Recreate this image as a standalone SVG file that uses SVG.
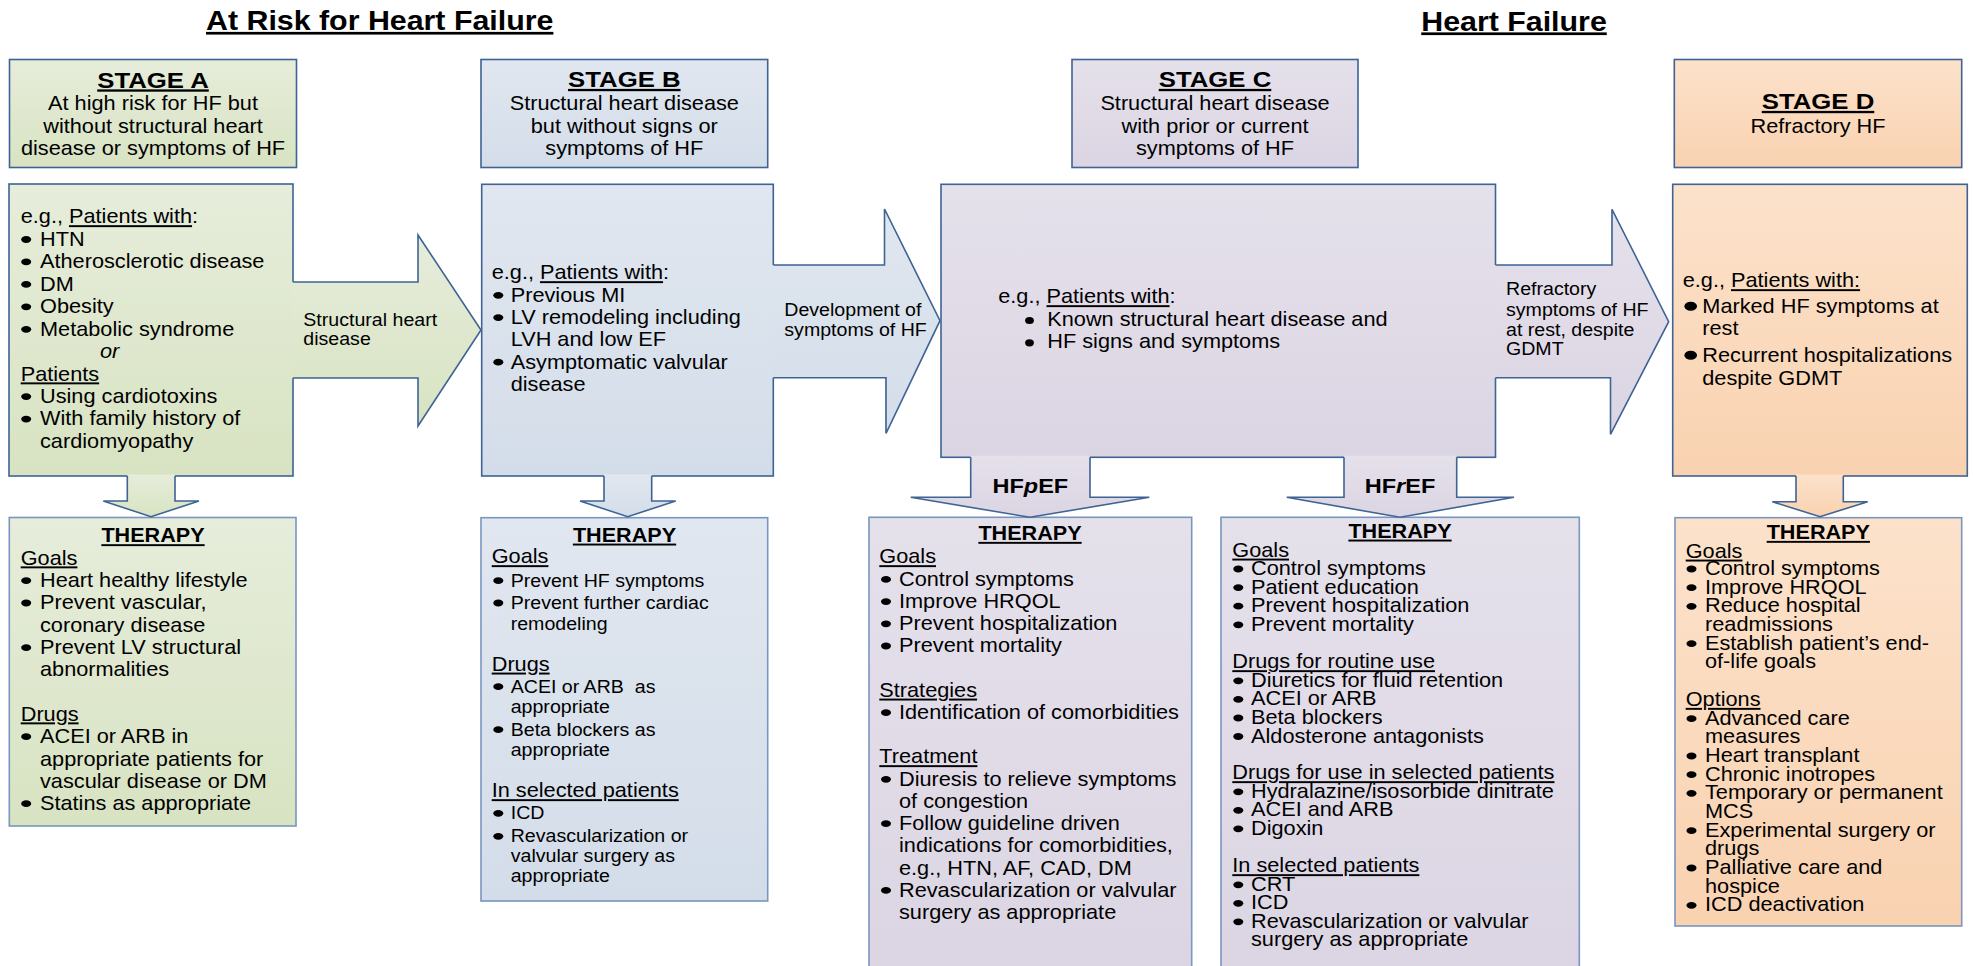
<svg xmlns="http://www.w3.org/2000/svg" xmlns:xlink="http://www.w3.org/1999/xlink" width="1974" height="966" viewBox="0 0 1974 966">
<defs>
<linearGradient id="gA" x1="0" y1="0" x2="0" y2="1"><stop offset="0" stop-color="#e6eddb"/><stop offset="1" stop-color="#d8e3c2"/></linearGradient>
<linearGradient id="gB" x1="0" y1="0" x2="0" y2="1"><stop offset="0" stop-color="#e1e7f0"/><stop offset="1" stop-color="#d3dde9"/></linearGradient>
<linearGradient id="gC" x1="0" y1="0" x2="0" y2="1"><stop offset="0" stop-color="#e5e1eb"/><stop offset="1" stop-color="#dbd5e3"/></linearGradient>
<linearGradient id="gD" x1="0" y1="0" x2="0" y2="1"><stop offset="0" stop-color="#fce2cb"/><stop offset="1" stop-color="#f9d2b0"/></linearGradient>
<ellipse id="bl" cx="0" cy="0" rx="5" ry="3.4" fill="#000"/>
<ellipse id="blc" cx="0" cy="0" rx="4.4" ry="3.6" fill="#000"/>
<ellipse id="blg" cx="0" cy="0" rx="6.3" ry="4.5" fill="#000"/>
</defs>
<style>
text{font-family:"Liberation Sans",Arial,sans-serif;font-size:19.4px;fill:#000}
.s{font-size:17.5px}
.th{font-size:19.3px;font-weight:bold;text-decoration:underline}
.st{font-size:23px;font-weight:bold;text-decoration:underline}
.ti{font-size:27.1px;font-weight:bold;text-decoration:underline}
.hf{font-size:21px;font-weight:bold}
.m{text-anchor:middle}
.u{text-decoration:underline}
.box{stroke:#3e6394;stroke-width:1.6}
.tbox{stroke:#7a95bf;stroke-width:1.6}
.arr{fill:none;stroke:#3e6394;stroke-width:1.6;stroke-linejoin:miter}
</style>
<rect width="1974" height="966" fill="#ffffff"/>

<g id="titles">
<text class="ti m" transform="matrix(1.12 0 0 1 379.7 30)">At Risk for Heart Failure</text>
<text class="ti m" transform="matrix(1.12 0 0 1 1514 30.5)">Heart Failure</text>
</g>

<!-- STAGE A -->
<g id="stageA-header">
<rect class="box" x="9.5" y="59.5" width="287" height="108" fill="url(#gA)"/>
<text class="st m" transform="matrix(1.12 0 0 1 153 87.5)">STAGE A</text>
<text class="m" transform="matrix(1.12 0 0 1 153 110)">At high risk for HF but</text>
<text class="m" transform="matrix(1.12 0 0 1 153 132.7)">without structural heart</text>
<text class="m" transform="matrix(1.12 0 0 1 153 155)">disease or symptoms of HF</text>
</g>
<g id="stageA-body">
<rect class="box" x="9" y="184" width="284" height="292" fill="url(#gA)"/>
<text transform="matrix(1.12 0 0 1 20.7 223.3)">e.g., <tspan class="u">Patients with</tspan>:</text>
<use href="#bl" x="26.2" y="239.5"/><text transform="matrix(1.12 0 0 1 40 245.8)">HTN</text>
<use href="#bl" x="26.2" y="261.9"/><text transform="matrix(1.12 0 0 1 40 268.2)">Atherosclerotic disease</text>
<use href="#bl" x="26.2" y="284.4"/><text transform="matrix(1.12 0 0 1 40 290.7)">DM</text>
<use href="#bl" x="26.2" y="306.8"/><text transform="matrix(1.12 0 0 1 40 313.1)">Obesity</text>
<use href="#bl" x="26.2" y="329.3"/><text transform="matrix(1.12 0 0 1 40 335.6)">Metabolic syndrome</text>
<text font-style="italic" transform="matrix(1.12 0 0 1 100 358)">or</text>
<text class="u" transform="matrix(1.12 0 0 1 20.7 380.5)">Patients</text>
<use href="#bl" x="26.2" y="396.6"/><text transform="matrix(1.12 0 0 1 40 402.9)">Using cardiotoxins</text>
<use href="#bl" x="26.2" y="419.1"/><text transform="matrix(1.12 0 0 1 40 425.4)">With family history of</text>
<text transform="matrix(1.12 0 0 1 40 447.8)">cardiomyopathy</text>
</g>
<g id="stageA-therapy">
<rect class="tbox" x="9.3" y="517.5" width="286.7" height="308.5" fill="url(#gA)"/>
<text class="th m" transform="matrix(1.12 0 0 1 153 542.3)">THERAPY</text>
<text class="u" transform="matrix(1.12 0 0 1 20.7 564.5)">Goals</text>
<use href="#bl" x="26.2" y="580.7"/><text transform="matrix(1.12 0 0 1 40 587)">Heart healthy lifestyle</text>
<use href="#bl" x="26.2" y="603"/><text transform="matrix(1.12 0 0 1 40 609.3)">Prevent vascular,</text>
<text transform="matrix(1.12 0 0 1 40 631.6)">coronary disease</text>
<use href="#bl" x="26.2" y="647.7"/><text transform="matrix(1.12 0 0 1 40 654)">Prevent LV structural</text>
<text transform="matrix(1.12 0 0 1 40 676.2)">abnormalities</text>
<text class="u" transform="matrix(1.12 0 0 1 20.7 720.5)">Drugs</text>
<use href="#bl" x="26.2" y="736.7"/><text transform="matrix(1.12 0 0 1 40 743)">ACEI or ARB in</text>
<text transform="matrix(1.12 0 0 1 40 765.5)">appropriate patients for</text>
<text transform="matrix(1.12 0 0 1 40 787.6)">vascular disease or DM</text>
<use href="#bl" x="26.2" y="803.7"/><text transform="matrix(1.12 0 0 1 40 810)">Statins as appropriate</text>
</g>

<!-- STAGE B -->
<g id="stageB-header">
<rect class="box" x="481" y="59.5" width="286.7" height="108" fill="url(#gB)"/>
<text class="st m" transform="matrix(1.12 0 0 1 624.3 87)">STAGE B</text>
<text class="m" transform="matrix(1.12 0 0 1 624.3 110)">Structural heart disease</text>
<text class="m" transform="matrix(1.12 0 0 1 624.3 132.7)">but without signs or</text>
<text class="m" transform="matrix(1.12 0 0 1 624.3 155)">symptoms of HF</text>
</g>
<g id="stageB-body">
<rect class="box" x="481.7" y="184.3" width="291.6" height="291.7" fill="url(#gB)"/>
<text transform="matrix(1.12 0 0 1 491.7 279.3)">e.g., <tspan class="u">Patients with</tspan>:</text>
<use href="#bl" x="498.3" y="295.3"/><text transform="matrix(1.12 0 0 1 510.7 301.6)">Previous MI</text>
<use href="#bl" x="498.3" y="317.6"/><text transform="matrix(1.12 0 0 1 510.7 323.9)">LV remodeling including</text>
<text transform="matrix(1.12 0 0 1 510.7 346.2)">LVH and low EF</text>
<use href="#bl" x="498.3" y="362.2"/><text transform="matrix(1.12 0 0 1 510.7 368.5)">Asymptomatic valvular</text>
<text transform="matrix(1.12 0 0 1 510.7 390.8)">disease</text>
</g>
<g id="stageB-therapy">
<rect class="tbox" x="481" y="517.7" width="286.7" height="383.3" fill="url(#gB)"/>
<text class="th m" transform="matrix(1.12 0 0 1 624.5 541.7)">THERAPY</text>
<text class="u" transform="matrix(1.12 0 0 1 491.7 563.3)">Goals</text>
<use href="#bl" x="498.3" y="580.7"/><text class="s" transform="matrix(1.12 0 0 1 510.7 586.7)">Prevent HF symptoms</text>
<use href="#bl" x="498.3" y="603"/><text class="s" transform="matrix(1.12 0 0 1 510.7 609)">Prevent further cardiac</text>
<text class="s" transform="matrix(1.12 0 0 1 510.7 629.7)">remodeling</text>
<text class="u" transform="matrix(1.12 0 0 1 491.7 670.7)">Drugs</text>
<use href="#bl" x="498.3" y="686.7"/><text class="s" xml:space="preserve" transform="matrix(1.12 0 0 1 510.7 692.7)">ACEI or ARB  as</text>
<text class="s" transform="matrix(1.12 0 0 1 510.7 713.3)">appropriate</text>
<use href="#bl" x="498.3" y="729.7"/><text class="s" transform="matrix(1.12 0 0 1 510.7 735.7)">Beta blockers as</text>
<text class="s" transform="matrix(1.12 0 0 1 510.7 755.7)">appropriate</text>
<text class="u" transform="matrix(1.12 0 0 1 491.7 797.3)">In selected patients</text>
<use href="#bl" x="498.3" y="813.3"/><text class="s" transform="matrix(1.12 0 0 1 510.7 819.3)">ICD</text>
<use href="#bl" x="498.3" y="836.3"/><text class="s" transform="matrix(1.12 0 0 1 510.7 842.3)">Revascularization or</text>
<text class="s" transform="matrix(1.12 0 0 1 510.7 862.3)">valvular surgery as</text>
<text class="s" transform="matrix(1.12 0 0 1 510.7 882.3)">appropriate</text>
</g>

<!-- STAGE C -->
<g id="stageC-header">
<rect class="box" x="1072" y="59.5" width="286" height="108" fill="url(#gC)"/>
<text class="st m" transform="matrix(1.12 0 0 1 1215 87)">STAGE C</text>
<text class="m" transform="matrix(1.12 0 0 1 1215 110)">Structural heart disease</text>
<text class="m" transform="matrix(1.12 0 0 1 1215 132.7)">with prior or current</text>
<text class="m" transform="matrix(1.12 0 0 1 1215 155)">symptoms of HF</text>
</g>
<g id="stageC-body">
<rect class="box" x="941" y="184.3" width="554.5" height="273" fill="url(#gC)"/>
<text transform="matrix(1.12 0 0 1 998.2 303.3)">e.g., <tspan class="u">Patients with</tspan>:</text>
<use href="#blc" x="1029.5" y="320.5"/><text transform="matrix(1.12 0 0 1 1047.3 326)">Known structural heart disease and</text>
<use href="#blc" x="1029.5" y="342.8"/><text transform="matrix(1.12 0 0 1 1047.3 348.3)">HF signs and symptoms</text>
</g>
<g id="hfpef-therapy">
<rect class="tbox" x="869" y="517.3" width="322.7" height="470" fill="url(#gC)"/>
<text class="th m" transform="matrix(1.12 0 0 1 1030 540)">THERAPY</text>
<text class="u" transform="matrix(1.12 0 0 1 879.3 563.3)">Goals</text>
<use href="#bl" x="886" y="579.4"/><text transform="matrix(1.12 0 0 1 899 585.7)">Control symptoms</text>
<use href="#bl" x="886" y="601.6"/><text transform="matrix(1.12 0 0 1 899 607.9)">Improve HRQOL</text>
<use href="#bl" x="886" y="623.8"/><text transform="matrix(1.12 0 0 1 899 630.1)">Prevent hospitalization</text>
<use href="#bl" x="886" y="646"/><text transform="matrix(1.12 0 0 1 899 652.3)">Prevent mortality</text>
<text class="u" transform="matrix(1.12 0 0 1 879.3 696.7)">Strategies</text>
<use href="#bl" x="886" y="712.7"/><text transform="matrix(1.12 0 0 1 899 719)">Identification of comorbidities</text>
<text class="u" transform="matrix(1.12 0 0 1 879.3 763.3)">Treatment</text>
<use href="#bl" x="886" y="779.3"/><text transform="matrix(1.12 0 0 1 899 785.6)">Diuresis to relieve symptoms</text>
<text transform="matrix(1.12 0 0 1 899 807.8)">of congestion</text>
<use href="#bl" x="886" y="823.7"/><text transform="matrix(1.12 0 0 1 899 830)">Follow guideline driven</text>
<text transform="matrix(1.12 0 0 1 899 852.3)">indications for comorbidities,</text>
<text transform="matrix(1.12 0 0 1 899 874.5)">e.g., HTN, AF, CAD, DM</text>
<use href="#bl" x="886" y="890.4"/><text transform="matrix(1.12 0 0 1 899 896.7)">Revascularization or valvular</text>
<text transform="matrix(1.12 0 0 1 899 918.9)">surgery as appropriate</text>
</g>
<g id="hfref-therapy">
<rect class="tbox" x="1221" y="517.3" width="358.3" height="470" fill="url(#gC)"/>
<text class="th m" transform="matrix(1.12 0 0 1 1400 537.7)">THERAPY</text>
<text class="u" transform="matrix(1.12 0 0 1 1232.3 556.7)">Goals</text>
<use href="#bl" x="1238.3" y="569"/><text transform="matrix(1.12 0 0 1 1251 575)">Control symptoms</text>
<use href="#bl" x="1238.3" y="587.6"/><text transform="matrix(1.12 0 0 1 1251 593.6)">Patient education</text>
<use href="#bl" x="1238.3" y="606.2"/><text transform="matrix(1.12 0 0 1 1251 612.2)">Prevent hospitalization</text>
<use href="#bl" x="1238.3" y="624.8"/><text transform="matrix(1.12 0 0 1 1251 630.8)">Prevent mortality</text>
<text class="u" transform="matrix(1.12 0 0 1 1232.3 668.3)">Drugs for routine use</text>
<use href="#bl" x="1238.3" y="680.8"/><text transform="matrix(1.12 0 0 1 1251 686.8)">Diuretics for fluid retention</text>
<use href="#bl" x="1238.3" y="699.4"/><text transform="matrix(1.12 0 0 1 1251 705.4)">ACEI or ARB</text>
<use href="#bl" x="1238.3" y="718"/><text transform="matrix(1.12 0 0 1 1251 724)">Beta blockers</text>
<use href="#bl" x="1238.3" y="736.5"/><text transform="matrix(1.12 0 0 1 1251 742.5)">Aldosterone antagonists</text>
<text class="u" transform="matrix(1.12 0 0 1 1232.3 779.3)">Drugs for use in selected patients</text>
<use href="#bl" x="1238.3" y="791.8"/><text transform="matrix(1.12 0 0 1 1251 797.8)">Hydralazine/isosorbide dinitrate</text>
<use href="#bl" x="1238.3" y="810.3"/><text transform="matrix(1.12 0 0 1 1251 816.3)">ACEI and ARB</text>
<use href="#bl" x="1238.3" y="828.8"/><text transform="matrix(1.12 0 0 1 1251 834.8)">Digoxin</text>
<text class="u" transform="matrix(1.12 0 0 1 1232.3 872.3)">In selected patients</text>
<use href="#bl" x="1238.3" y="884.8"/><text transform="matrix(1.12 0 0 1 1251 890.8)">CRT</text>
<use href="#bl" x="1238.3" y="903.3"/><text transform="matrix(1.12 0 0 1 1251 909.3)">ICD</text>
<use href="#bl" x="1238.3" y="921.8"/><text transform="matrix(1.12 0 0 1 1251 927.8)">Revascularization or valvular</text>
<text transform="matrix(1.12 0 0 1 1251 946.3)">surgery as appropriate</text>
</g>

<!-- STAGE D -->
<g id="stageD-header">
<rect class="box" x="1674.3" y="59.5" width="287.4" height="108" fill="url(#gD)"/>
<text class="st m" transform="matrix(1.12 0 0 1 1818 109)">STAGE D</text>
<text class="m" transform="matrix(1.12 0 0 1 1818 133.3)">Refractory HF</text>
</g>
<g id="stageD-body">
<rect class="box" x="1672.7" y="184.3" width="294.6" height="291.7" fill="url(#gD)"/>
<text transform="matrix(1.12 0 0 1 1682.7 287.3)">e.g., <tspan class="u">Patients with:</tspan></text>
<use href="#blg" x="1690.7" y="306.3"/><text transform="matrix(1.12 0 0 1 1702.3 313.3)">Marked HF symptoms at</text>
<text transform="matrix(1.12 0 0 1 1702.3 335)">rest</text>
<use href="#blg" x="1690.7" y="355.3"/><text transform="matrix(1.12 0 0 1 1702.3 362.3)">Recurrent hospitalizations</text>
<text transform="matrix(1.12 0 0 1 1702.3 385)">despite GDMT</text>
</g>
<g id="stageD-therapy">
<rect class="tbox" x="1675" y="517.7" width="286.7" height="408.3" fill="url(#gD)"/>
<text class="th m" transform="matrix(1.12 0 0 1 1818.3 539)">THERAPY</text>
<text class="u" transform="matrix(1.12 0 0 1 1685.7 557.7)">Goals</text>
<use href="#bl" x="1691.5" y="569"/><text transform="matrix(1.12 0 0 1 1705 575)">Control symptoms</text>
<use href="#bl" x="1691.5" y="587.7"/><text transform="matrix(1.12 0 0 1 1705 593.7)">Improve HRQOL</text>
<use href="#bl" x="1691.5" y="606.3"/><text transform="matrix(1.12 0 0 1 1705 612.3)">Reduce hospital</text>
<text transform="matrix(1.12 0 0 1 1705 631)">readmissions</text>
<use href="#bl" x="1691.5" y="643.7"/><text transform="matrix(1.12 0 0 1 1705 649.7)">Establish patient’s end-</text>
<text transform="matrix(1.12 0 0 1 1705 668.3)">of-life goals</text>
<text class="u" transform="matrix(1.12 0 0 1 1685.7 706)">Options</text>
<use href="#bl" x="1691.5" y="718.7"/><text transform="matrix(1.12 0 0 1 1705 724.7)">Advanced care</text>
<text transform="matrix(1.12 0 0 1 1705 743.3)">measures</text>
<use href="#bl" x="1691.5" y="756"/><text transform="matrix(1.12 0 0 1 1705 762)">Heart transplant</text>
<use href="#bl" x="1691.5" y="774.7"/><text transform="matrix(1.12 0 0 1 1705 780.7)">Chronic inotropes</text>
<use href="#bl" x="1691.5" y="793.3"/><text transform="matrix(1.12 0 0 1 1705 799.3)">Temporary or permanent</text>
<text transform="matrix(1.12 0 0 1 1705 818)">MCS</text>
<use href="#bl" x="1691.5" y="830.7"/><text transform="matrix(1.12 0 0 1 1705 836.7)">Experimental surgery or</text>
<text transform="matrix(1.12 0 0 1 1705 855.3)">drugs</text>
<use href="#bl" x="1691.5" y="868"/><text transform="matrix(1.12 0 0 1 1705 874)">Palliative care and</text>
<text transform="matrix(1.12 0 0 1 1705 892.7)">hospice</text>
<use href="#bl" x="1691.5" y="905.3"/><text transform="matrix(1.12 0 0 1 1705 911.3)">ICD deactivation</text>
</g>

<g id="connectors">
<!-- A -> B -->
<polygon points="291.5,282 418,282 418,235 481,330 418,426 418,378 291.5,378" fill="url(#gA)"/>
<path class="arr" d="M293,282 H418 V235 L481,330 L418,426 V378 H293"/>
<text class="s" transform="matrix(1.12 0 0 1 303.3 325.7)">Structural heart</text>
<text class="s" transform="matrix(1.12 0 0 1 303.3 345)">disease</text>
<!-- B -> C -->
<polygon points="772,265 885,265 885,209 940,320.7 885,433.3 885,377.7 772,377.7" fill="url(#gB)"/>
<path class="arr" d="M773.3,265 H884.5 V209 L940,320.7 L886,433.3 V377.7 H773.3"/>
<text class="s" transform="matrix(1.12 0 0 1 784.3 315.7)">Development of</text>
<text class="s" transform="matrix(1.12 0 0 1 784.3 336)">symptoms of HF</text>
<!-- C -> D -->
<polygon points="1494,265 1611,265 1611,209.3 1668.7,321.7 1611,434.3 1611,377.7 1494,377.7" fill="url(#gC)"/>
<path class="arr" d="M1495.5,265 H1612 V209.3 L1668.7,321.7 L1610.5,434.3 V377.7 H1495.5"/>
<text class="s" transform="matrix(1.12 0 0 1 1506 295)">Refractory</text>
<text class="s" transform="matrix(1.12 0 0 1 1506 315.5)">symptoms of HF</text>
<text class="s" transform="matrix(1.12 0 0 1 1506 335.5)">at rest, despite</text>
<text class="s" transform="matrix(1.12 0 0 1 1506 355)">GDMT</text>
<!-- A down -->
<polygon points="127.3,474.5 175,474.5 175,501 199,501 151,516.7 103.3,501 127.3,501" fill="url(#gA)"/>
<path class="arr" d="M127.3,476 V501 H103.3 L151,516.7 L199,501 H175 V476"/>
<!-- B down -->
<polygon points="604,474.5 651.7,474.5 651.7,501 675.7,501 627.7,516.7 580,501 604,501" fill="url(#gB)"/>
<path class="arr" d="M604,476 V501 H580 L627.7,516.7 L675.7,501 H651.7 V476"/>
<!-- HFpEF -->
<polygon points="970.7,455.8 1090,455.8 1090,497.3 1149.3,497.3 1030,517.3 910.7,497.3 970.7,497.3" fill="url(#gC)"/>
<path class="arr" d="M970.7,457.3 V497.3 H910.7 L1030,517.3 L1149.3,497.3 H1090 V457.3"/>
<text class="hf m" transform="matrix(1.12 0 0 1 1030.3 493.3)">HF<tspan font-style="italic">p</tspan>EF</text>
<!-- HFrEF -->
<polygon points="1344,455.8 1456.7,455.8 1456.7,497.3 1514,497.3 1400,517.3 1286.7,497.3 1344,497.3" fill="url(#gC)"/>
<path class="arr" d="M1344,457.3 V497.3 H1286.7 L1400,517.3 L1514,497.3 H1456.7 V457.3"/>
<text class="hf m" transform="matrix(1.12 0 0 1 1400 493.3)">HF<tspan font-style="italic">r</tspan>EF</text>
<!-- D down -->
<polygon points="1796,474.5 1843.3,474.5 1843.3,501.7 1867.7,501.7 1820,516.7 1772.3,501.7 1796,501.7" fill="url(#gD)"/>
<path class="arr" d="M1796,476 V501.7 H1772.3 L1820,516.7 L1867.7,501.7 H1843.3 V476"/>
</g>
</svg>
